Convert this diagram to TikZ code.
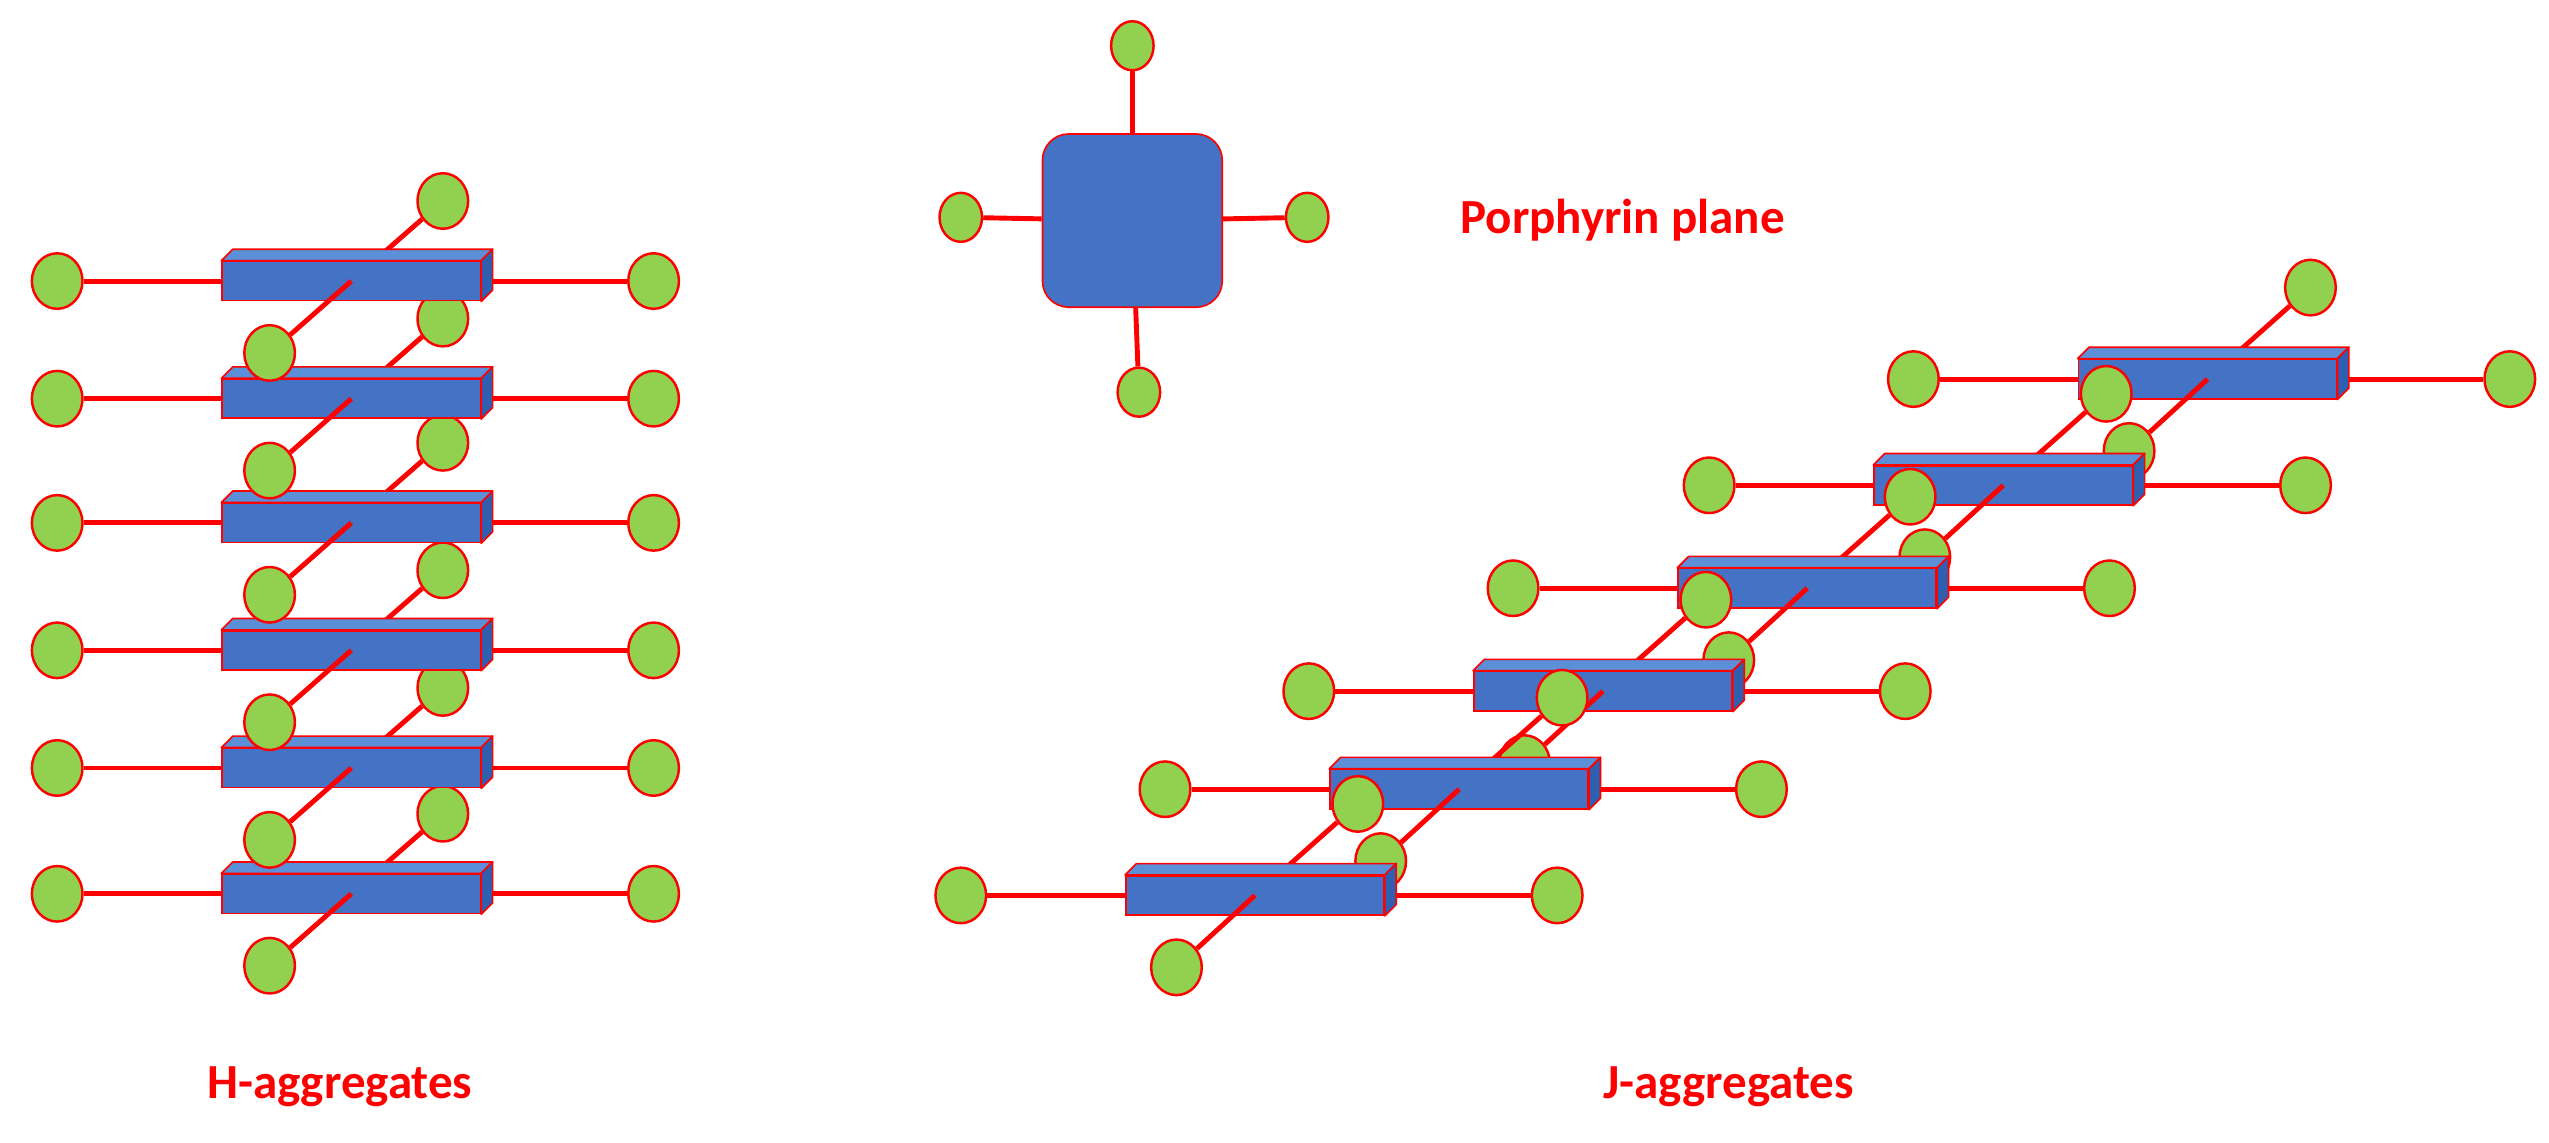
\documentclass[tikz,border=0pt]{standalone}
\usepackage{fontspec}
\setmainfont{Carlito}
\usetikzlibrary{shapes.geometric,calc,positioning}
\definecolor{ballgreen}{HTML}{92D050}
\definecolor{slabblue}{HTML}{4472C4}
\definecolor{slabtop}{HTML}{5B8FD8}
\definecolor{slabside}{HTML}{2F5FB0}
\tikzset{
	ball/.style = {ellipse, draw=red, fill=ballgreen, line width=1.5pt,
		minimum width=31pt, minimum height=34pt, inner sep=0pt},
	stick/.style = {draw=red, line width=3pt},
	slab/.style = {rectangle, draw=red, fill=slabblue, line width=1pt,
		minimum width=158pt, minimum height=24pt, inner sep=0pt},
	face/.style = {draw=red, line width=1pt, line join=round},
	caption/.style = {text=red, font=\bfseries\fontsize{30}{36}\selectfont},
}
% one stacked porphyrin: name, x, y, back offset, front offset
\newcommand\slabrow[5]{%
	\coordinate (#1c) at (#2,#3);
	\node[ball] (#1b) at ($(#1c)+(#4)$) {};
	\draw[stick] (#1b) -- (#1c);
	\node[ball] (#1l) at ($(#1c)+(-180,0)$) {};
	\node[ball] (#1r) at ($(#1c)+(185,0)$) {};
	\draw[stick] (#1l) -- (#1r);
	\node[slab] (#1) at (#1c) {};
	\filldraw[face, fill=slabtop] (#1.north west) -- ++(7,-7) -- ($(#1.north east)+(7,-7)$) -- (#1.north east) -- cycle;
	\filldraw[face, fill=slabside] (#1.north east) -- ++(7,-7) -- ($(#1.south east)+(7,-7)$) -- (#1.south east) -- cycle;
	\node[ball] (#1f) at ($(#1c)+(#5)$) {};
	\draw[stick] (#1c) -- (#1f);
}

\begin{document}
\begin{tikzpicture}[x=1pt, y=-1pt]
	\useasboundingbox (0,0) rectangle (1560,699);
	%H-aggregates
	\foreach \n/\y in {h6/547, h5/470, h4/398, h3/320, h2/244, h1/172}
		{\slabrow{\n}{215}{\y}{56,-49}{-50,44}}
	%J-aggregates
	\foreach \n/\x/\y in {j6/1351/232, j5/1226/297, j4/1106/360, j3/981/423, j2/893/483, j1/768/548}
		{\slabrow{\n}{\x}{\y}{63,-56}{-48,44}}
	%porphyrin plane
	\node[rectangle, rounded corners=16pt, draw=red, fill=slabblue, line width=1pt,
		minimum width=110pt, minimum height=106pt] (plane) at (693,135) {};
	\node[ball, minimum width=26pt, minimum height=30pt] (pt) at (693,28) {};
	\node[ball, minimum width=26pt, minimum height=30pt] (pb) at (697,240) {};
	\node[ball, minimum width=26pt, minimum height=30pt] (pl) at (588,133) {};
	\node[ball, minimum width=26pt, minimum height=30pt] (pr) at (800,133) {};
	\draw[stick] (pt) -- (plane);
	\draw[stick] (pb) -- (plane);
	\draw[stick] (pl) -- (plane);
	\draw[stick] (pr) -- (plane);
	%labels
	\node[caption] (ptext) at (993,135) {Porphyrin plane};
	\node[caption] (htext) at (208,665) {H-aggregates};
	\node[caption] (jtext) at (1058,665) {J-aggregates};
\end{tikzpicture}
\end{document}
